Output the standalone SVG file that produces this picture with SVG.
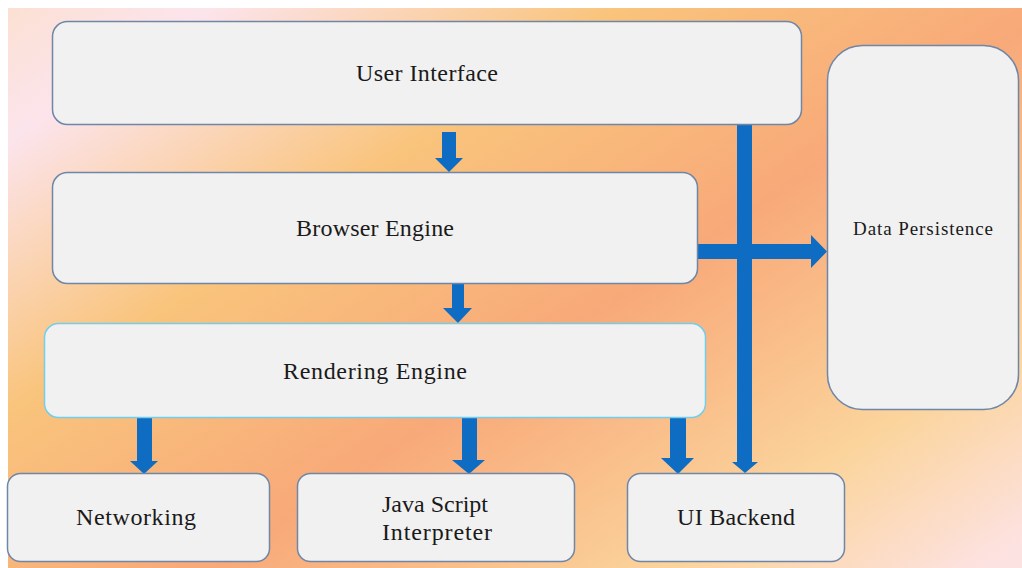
<svg xmlns="http://www.w3.org/2000/svg" width="1022" height="568" viewBox="0 0 1022 568">
<defs>
<linearGradient id="bg" gradientUnits="userSpaceOnUse" x1="0" y1="0" x2="563" y2="849">
<stop offset="0" stop-color="#fbe0d0"/>
<stop offset="0.12" stop-color="#fce4ec"/>
<stop offset="0.34" stop-color="#f9c47c"/>
<stop offset="0.58" stop-color="#f8a979"/>
<stop offset="0.83" stop-color="#fbd49c"/>
<stop offset="1" stop-color="#fde2e2"/>
</linearGradient>
<style>
.box{fill:#f1f1f1;stroke:#6f86a6;stroke-width:1.5}
.box2{fill:#f1f1f1;stroke:#74cdea;stroke-width:1.5}
.lbl{font-family:"Palatino Linotype","Book Antiqua","Liberation Serif",serif;font-size:24px;fill:#1a1a1a;text-anchor:middle}
.sm{font-size:19px}
.arr{fill:#0f6cc3}
</style>
</defs>
<rect x="0" y="0" width="1022" height="568" fill="#ffffff"/>
<rect x="8" y="8" width="1014" height="560" fill="url(#bg)"/>
<g id="connectors">
<polygon class="arr" points="442,132 456,132 456,158 463,158 449,172 435,158 442,158"/>
<polygon class="arr" points="452,284 464,284 464,308 472,308 458,323 443,308 452,308"/>
<polygon class="arr" points="137,418 152,418 152,461 158,461 144,474 130,461 137,461"/>
<polygon class="arr" points="462,418 477,418 477,460 485,460 469,474 452,460 462,460"/>
<polygon class="arr" points="670,418 686,418 686,458 694,458 678,474 661,458 670,458"/>
<polygon class="arr" points="737,125 752,125 752,462 758,462 745,473 732,462 737,462"/>
<polygon class="arr" points="697,244 811,244 811,235 827,251.5 811,268 811,259 697,259"/>
</g>
<g id="user-interface">
<rect class="box" x="52.5" y="21.5" width="749" height="103" rx="15"/>
<text class="lbl" x="427" y="81" textLength="142" lengthAdjust="spacing">User Interface</text>
</g>
<g id="browser-engine">
<rect class="box" x="52.5" y="172.5" width="645" height="111" rx="15"/>
<text class="lbl" x="375" y="236" textLength="158" lengthAdjust="spacing">Browser Engine</text>
</g>
<g id="data-persistence">
<rect class="box" x="827.5" y="45.5" width="191" height="364" rx="35"/>
<text class="lbl sm" x="923" y="235" textLength="140" lengthAdjust="spacing">Data Persistence</text>
</g>
<g id="rendering-engine">
<rect class="box2" x="44.5" y="323.5" width="661" height="94" rx="14"/>
<text class="lbl" x="375" y="379" textLength="184" lengthAdjust="spacing">Rendering Engine</text>
</g>
<g id="networking">
<rect class="box" x="7.5" y="473.5" width="262" height="88" rx="13"/>
<text class="lbl" x="136" y="525" textLength="120" lengthAdjust="spacing">Networking</text>
</g>
<g id="javascript-interpreter">
<rect class="box" x="297.5" y="473.5" width="277" height="88" rx="13"/>
<text class="lbl" x="435" y="512" textLength="106" lengthAdjust="spacing">Java Script</text>
<text class="lbl" x="437" y="540" textLength="110" lengthAdjust="spacing">Interpreter</text>
</g>
<g id="ui-backend">
<rect class="box" x="627.5" y="473.5" width="217" height="88" rx="13"/>
<text class="lbl" x="736" y="525" textLength="118" lengthAdjust="spacing">UI Backend</text>
</g>
</svg>
